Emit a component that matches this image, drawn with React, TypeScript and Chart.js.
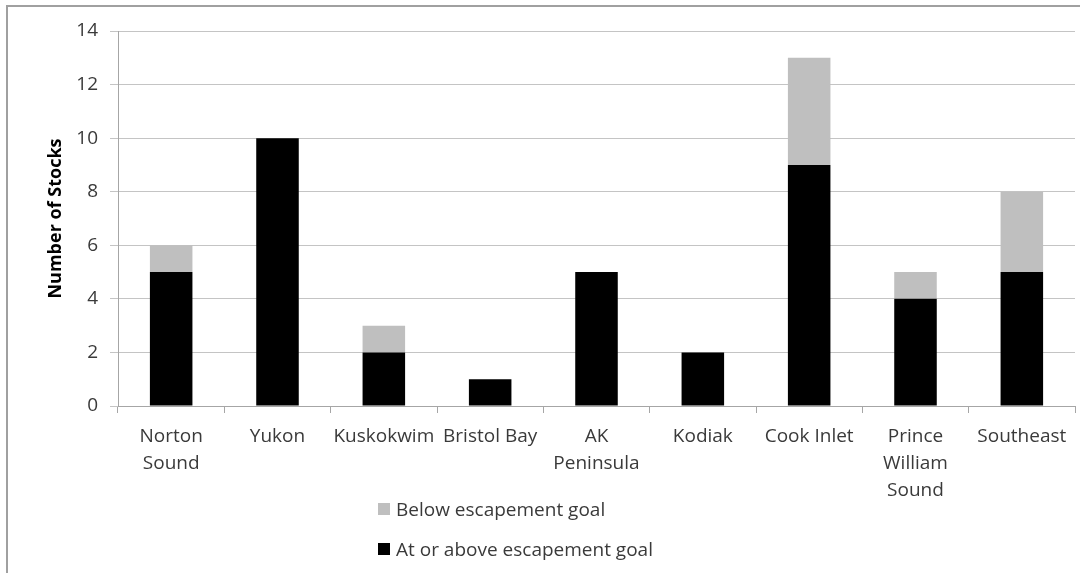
import React, { useEffect, useRef } from "react";
import { Chart, registerables } from "chart.js";

Chart.register(...registerables);

const categories: (string | string[])[] = [
  ["Norton", "Sound"],
  "Yukon",
  "Kuskokwim",
  "Bristol Bay",
  ["AK", "Peninsula"],
  "Kodiak",
  "Cook Inlet",
  ["Prince", "William", "Sound"],
  "Southeast",
];
const atOrAbove = [5, 10, 2, 1, 5, 2, 9, 4, 5];
const below = [1, 0, 1, 0, 0, 0, 4, 1, 3];
const seriesNames = ["Below escapement goal", "At or above escapement goal"];
const seriesColors = ["#bfbfbf", "#000000"];

const FONT = "'Open Sans', Lato, sans-serif";
const TEXT = "#3a3a3a";
const FS = 19;

export default function App() {
  const ref = useRef<HTMLCanvasElement | null>(null);

  useEffect(() => {
    document.body.style.margin = "0";
    const ctx = ref.current!;
    const chart = new Chart(ctx, {
      type: "bar",
      data: {
        labels: categories,
        datasets: [
          {
            label: seriesNames[1],
            data: atOrAbove,
            backgroundColor: seriesColors[1],
            borderWidth: 0,
            categoryPercentage: 1,
            barPercentage: 0.4,
          },
          {
            label: seriesNames[0],
            data: below,
            backgroundColor: seriesColors[0],
            borderWidth: 0,
            categoryPercentage: 1,
            barPercentage: 0.4,
          },
        ],
      },
      options: {
        animation: false,
        responsive: false,
        layout: { padding: { left: 45, top: 31, right: 5, bottom: 0 } },
        plugins: { legend: { display: false }, tooltip: { enabled: false } },
        scales: {
          x: {
            stacked: true,
            grid: {
              offset: true,
              drawOnChartArea: false,
              drawTicks: true,
              tickLength: 7,
              color: "#a6a6a6",
            },
            border: { color: "#a6a6a6", width: 1 },
            ticks: {
              color: TEXT,
              font: { family: FONT, size: FS, lineHeight: 1.42 },
              padding: 10,
              maxRotation: 0,
              autoSkip: false,
            },
            afterFit: (s: any) => {
              s.height = 167;
            },
          },
          y: {
            stacked: true,
            min: 0,
            max: 14,
            ticks: {
              stepSize: 2,
              color: TEXT,
              font: { family: FONT, size: FS },
              padding: 12,
            },
            grid: {
              color: "#c4c4c4",
              drawTicks: true,
              tickLength: 8,
            },
            border: { color: "#a6a6a6", width: 1 },
            title: {
              display: true,
              text: "Number of Stocks",
              color: "#000000",
              font: { family: FONT, size: 18, weight: "bold" },
              padding: 0,
            },
            afterFit: (s: any) => {
              s.width = 73;
            },
          },
        },
      },
    });
    return () => chart.destroy();
  }, []);

  const legendRow = (i: number, top: number) => (
    <div
      style={{
        position: "absolute",
        left: 378,
        top,
        height: 20,
        display: "flex",
        alignItems: "center",
        fontFamily: FONT,
        fontSize: FS,
        color: TEXT,
        whiteSpace: "nowrap",
      }}
    >
      <span
        style={{
          display: "inline-block",
          width: 12,
          height: 12,
          background: seriesColors[i],
          marginRight: 6,
        }}
      />
      <span>{seriesNames[i]}</span>
    </div>
  );

  return (
    <div
      style={{
        position: "relative",
        width: 1080,
        height: 573,
        overflow: "hidden",
        background: "#fff",
      }}
    >
      <div
        style={{
          position: "absolute",
          left: 6,
          top: 5,
          width: 1200,
          height: 700,
          border: "2px solid #a0a0a0",
          boxSizing: "border-box",
        }}
      />
      <canvas
        ref={ref}
        width={1080}
        height={573}
        style={{ position: "absolute", left: 0, top: 0, width: 1080, height: 573 }}
      />
      {legendRow(0, 499)}
      {legendRow(1, 539)}
    </div>
  );
}
